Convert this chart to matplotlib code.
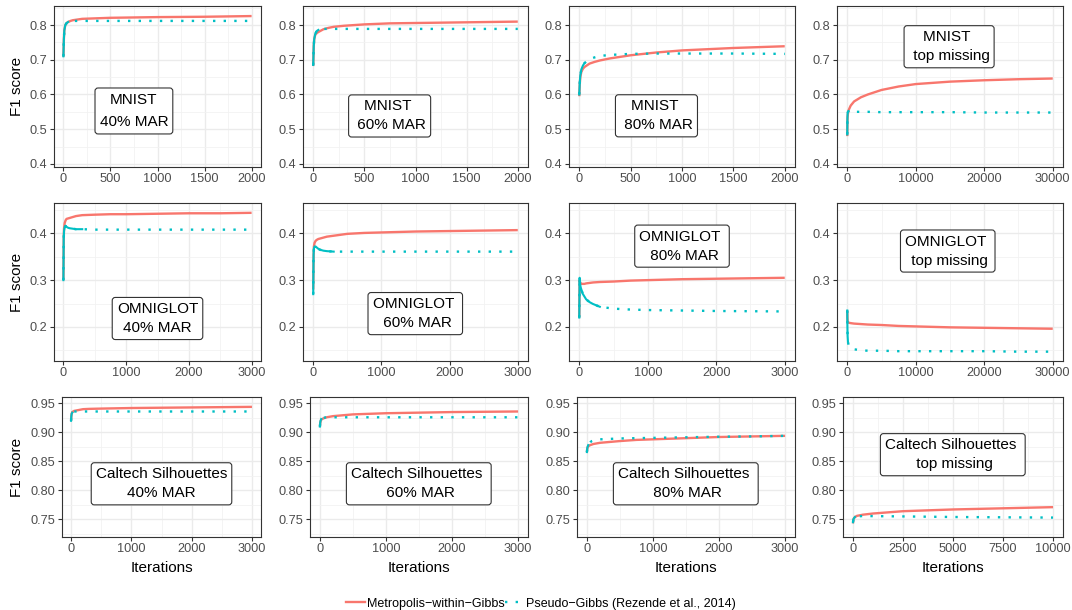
import matplotlib
matplotlib.use("Agg")
import matplotlib.pyplot as plt
from matplotlib.lines import Line2D
import numpy as np

plt.rcParams['font.family'] = ['Liberation Sans', 'DejaVu Sans']

RED = '#F8766D'
TEAL = '#00BFC4'

# iteration grids (one per panel width)
iters_2k = [0, 5, 10, 20, 35, 50, 75, 100, 150, 200, 300, 500, 750, 1000, 1500, 2000]
iters_3k = [0, 5, 10, 20, 35, 50, 75, 100, 150, 200, 300, 500, 750, 1000, 1500, 2000, 2500, 3000]
iters_30k = [0, 20, 50, 100, 200, 500, 1000, 2000, 3000, 5000, 7500, 10000, 15000, 20000, 25000, 30000]
iters_10k = [0, 20, 50, 100, 200, 500, 1000, 2500, 5000, 7500, 10000]

# MNIST
mnist40_mwg = [0.709, 0.76, 0.785, 0.800, 0.806, 0.809, 0.812, 0.814, 0.816, 0.818, 0.819, 0.821, 0.822, 0.823, 0.824, 0.826]
mnist40_pg = [0.710, 0.76, 0.785, 0.800, 0.806, 0.809, 0.811, 0.812, 0.812, 0.812, 0.812, 0.812, 0.812, 0.812, 0.812, 0.812]
mnist60_mwg = [0.682, 0.74, 0.76, 0.772, 0.777, 0.780, 0.784, 0.788, 0.792, 0.795, 0.798, 0.802, 0.805, 0.806, 0.808, 0.810]
mnist60_pg = [0.685, 0.74, 0.76, 0.775, 0.783, 0.786, 0.788, 0.789, 0.789, 0.789, 0.789, 0.789, 0.789, 0.789, 0.789, 0.789]
mnist80_mwg = [0.595, 0.63, 0.65, 0.665, 0.674, 0.679, 0.684, 0.689, 0.694, 0.698, 0.704, 0.713, 0.721, 0.727, 0.734, 0.739]
mnist80_pg = [0.600, 0.635, 0.655, 0.672, 0.683, 0.690, 0.697, 0.702, 0.707, 0.711, 0.714, 0.717, 0.718, 0.718, 0.718, 0.717]
mnisttop_mwg = [0.48, 0.52, 0.535, 0.545, 0.555, 0.568, 0.580, 0.592, 0.600, 0.613, 0.623, 0.630, 0.637, 0.641, 0.644, 0.646]
mnisttop_pg = [0.485, 0.53, 0.545, 0.550, 0.552, 0.551, 0.550, 0.550, 0.550, 0.549, 0.549, 0.549, 0.549, 0.548, 0.548, 0.548]

# OMNIGLOT
omni40_mwg = [0.300, 0.39, 0.41, 0.422, 0.428, 0.431, 0.432, 0.433, 0.435, 0.437, 0.439, 0.440, 0.441, 0.441, 0.442, 0.443, 0.443, 0.444]
omni40_pg = [0.300, 0.39, 0.405, 0.413, 0.416, 0.414, 0.412, 0.411, 0.410, 0.409, 0.409, 0.408, 0.408, 0.408, 0.408, 0.408, 0.408, 0.408]
omni60_mwg = [0.28, 0.35, 0.372, 0.380, 0.384, 0.386, 0.388, 0.389, 0.391, 0.393, 0.395, 0.399, 0.401, 0.402, 0.404, 0.405, 0.406, 0.407]
omni60_pg = [0.27, 0.355, 0.368, 0.372, 0.372, 0.370, 0.367, 0.365, 0.363, 0.362, 0.361, 0.361, 0.361, 0.361, 0.361, 0.361, 0.361, 0.361]
omni80_mwg = [0.22, 0.300, 0.296, 0.293, 0.292, 0.292, 0.292, 0.293, 0.294, 0.295, 0.296, 0.297, 0.299, 0.300, 0.302, 0.303, 0.304, 0.305]
omni80_pg = [0.22, 0.305, 0.295, 0.285, 0.278, 0.271, 0.265, 0.259, 0.253, 0.249, 0.243, 0.239, 0.237, 0.236, 0.235, 0.234, 0.2335, 0.233]
omnitop_mwg = [0.235, 0.220, 0.213, 0.210, 0.209, 0.208, 0.207, 0.206, 0.205, 0.204, 0.202, 0.201, 0.199, 0.198, 0.197, 0.196]
omnitop_pg = [0.235, 0.200, 0.180, 0.168, 0.160, 0.155, 0.152, 0.150, 0.149, 0.149, 0.148, 0.148, 0.148, 0.148, 0.147, 0.147]

# Caltech Silhouettes
cal40_mwg = [0.920, 0.928, 0.932, 0.935, 0.936, 0.937, 0.9375, 0.938, 0.939, 0.940, 0.9405, 0.941, 0.9415, 0.942, 0.9425, 0.943, 0.9435, 0.944]
cal40_pg = [0.920, 0.928, 0.932, 0.934, 0.935, 0.936, 0.936, 0.936, 0.936, 0.936, 0.936, 0.936, 0.936, 0.936, 0.936, 0.936, 0.936, 0.936]
cal60_mwg = [0.910, 0.916, 0.919, 0.922, 0.923, 0.924, 0.925, 0.926, 0.927, 0.928, 0.929, 0.931, 0.932, 0.933, 0.934, 0.935, 0.9355, 0.936]
cal60_pg = [0.910, 0.917, 0.920, 0.923, 0.924, 0.925, 0.9255, 0.926, 0.926, 0.926, 0.926, 0.926, 0.926, 0.926, 0.926, 0.926, 0.926, 0.926]
cal80_mwg = [0.866, 0.871, 0.874, 0.876, 0.877, 0.878, 0.879, 0.880, 0.881, 0.882, 0.883, 0.885, 0.887, 0.888, 0.890, 0.892, 0.893, 0.894]
cal80_pg = [0.866, 0.872, 0.875, 0.878, 0.881, 0.883, 0.885, 0.886, 0.887, 0.888, 0.8885, 0.8895, 0.890, 0.8905, 0.8915, 0.8925, 0.893, 0.894]
caltop_mwg = [0.743, 0.750, 0.752, 0.754, 0.756, 0.758, 0.760, 0.764, 0.767, 0.769, 0.771]
caltop_pg = [0.745, 0.750, 0.752, 0.754, 0.755, 0.7557, 0.7555, 0.755, 0.754, 0.7535, 0.753]

labels = [
    "MNIST\n40% MAR", "MNIST \n 60% MAR", "MNIST \n 80% MAR", "MNIST \n top missing",
    "OMNIGLOT\n40% MAR", "OMNIGLOT \n 60% MAR", "OMNIGLOT \n 80% MAR", "OMNIGLOT \n top missing",
    "Caltech Silhouettes\n40% MAR", "Caltech Silhouettes \n 60% MAR",
    "Caltech Silhouettes \n 80% MAR", "Caltech Silhouettes \n top missing",
]

panels = [
    (iters_2k, mnist40_mwg, mnist40_pg), (iters_2k, mnist60_mwg, mnist60_pg),
    (iters_2k, mnist80_mwg, mnist80_pg), (iters_30k, mnisttop_mwg, mnisttop_pg),
    (iters_3k, omni40_mwg, omni40_pg), (iters_3k, omni60_mwg, omni60_pg),
    (iters_3k, omni80_mwg, omni80_pg), (iters_30k, omnitop_mwg, omnitop_pg),
    (iters_3k, cal40_mwg, cal40_pg), (iters_3k, cal60_mwg, cal60_pg),
    (iters_3k, cal80_mwg, cal80_pg), (iters_10k, caltop_mwg, caltop_pg),
]

# ---- layout (pixels) ----
W, H = 1072, 610
rows_tb = [(6, 167), (203, 361), (397, 537)]
lefts = [[54, 303, 569, 837], [54, 303, 569, 837], [62, 310, 577, 843]]
rights = [261, 528, 795, 1063]
ylims = [(0.391, 0.855), (0.127, 0.465), (0.7195, 0.961)]
ymaj = [[0.4, 0.5, 0.6, 0.7, 0.8], [0.2, 0.3, 0.4], [0.75, 0.80, 0.85, 0.90, 0.95]]
ymin = [np.arange(0.45, 0.86, 0.1), np.arange(0.15, 0.46, 0.1), np.arange(0.725, 0.96, 0.05)]
yfmt = ['{:.1f}', '{:.1f}', '{:.2f}']
label_pos = [(0.386, 0.348), (0.385, 0.317), (0.387, 0.318), (0.496, 0.747),
             (0.5, 0.269), (0.499, 0.30), (0.5, 0.727), (0.49, 0.696),
             (0.5, 0.38), (0.499, 0.38), (0.499, 0.38), (0.499, 0.588)]
pg_solid_until = [50, 50, 50, 300, 300, 300, 300, 100, 20, 20, 20, 100]

fig = plt.figure(figsize=(W / 100, H / 100), dpi=100)

for i, (xs, mwg, pg) in enumerate(panels):
    r, c = divmod(i, 4)
    top, bot = rows_tb[r]
    left = lefts[r][c]
    ax = fig.add_axes([left / W, 1 - bot / H, (rights[c] - left) / W, (bot - top) / H])
    xmax = xs[-1]
    ax.set_xlim(-0.05 * xmax, 1.05 * xmax)
    ax.set_ylim(*ylims[r])

    if xmax == 2000:
        xt = [0, 500, 1000, 1500, 2000]
    elif xmax == 3000:
        xt = [0, 1000, 2000, 3000]
    elif xmax == 30000:
        xt = [0, 10000, 20000, 30000]
    else:
        xt = [0, 2500, 5000, 7500, 10000]
    ax.set_xticks(xt)
    ax.set_xticklabels([str(v) for v in xt])
    ax.set_xticks([(a + b) / 2 for a, b in zip(xt[:-1], xt[1:])], minor=True)
    ax.set_yticks(ymaj[r])
    ax.set_yticklabels([yfmt[r].format(v) for v in ymaj[r]])
    ax.set_yticks(ymin[r], minor=True)

    ax.grid(which='major', color='#EBEBEB', lw=1.0)
    ax.grid(which='minor', color='#F2F2F2', lw=0.6)
    ax.set_axisbelow(True)
    for s in ax.spines.values():
        s.set_color('#333333')
        s.set_linewidth(0.8)
    ax.tick_params(which='major', length=3, width=0.8, color='#333333',
                   labelcolor='#4D4D4D', labelsize=9.2, pad=1.6)
    ax.tick_params(which='minor', length=0)

    ax.plot(xs, mwg, color=RED, lw=1.7, solid_capstyle='butt')
    ax.plot(xs, pg, color=TEAL, lw=1.7, linestyle=(0, (1, 3.5)))
    cut = pg_solid_until[i]
    xe = [x for x in xs if x <= cut]
    ax.plot(xe, pg[:len(xe)], color=TEAL, lw=1.5)

    lx, ly = label_pos[i]
    ax.text(lx, ly, labels[i], transform=ax.transAxes, ha='center', va='center',
            multialignment='center', fontsize=11, color='black',
            linespacing=1.8 if i == 0 else 1.45,
            bbox=dict(boxstyle='round,pad=0.3,rounding_size=0.2', fc='white',
                      ec='#333333', lw=0.8))

    if c == 0:
        fig.text(17 / W, 1 - (top + bot) / 2 / H, 'F1 score', rotation=90,
                 ha='center', va='center', fontsize=11)
    if r == 2:
        fig.text((left + rights[c]) / 2 / W, 1 - 567.5 / H, 'Iterations',
                 ha='center', va='center', fontsize=11)

handles = [Line2D([], [], color=RED, lw=1.7),
           Line2D([], [], color=TEAL, lw=1.7, linestyle=(0, (1, 3.5)))]
fig.legend(handles, ['Metropolis\u2212within\u2212Gibbs', 'Pseudo\u2212Gibbs (Rezende et al., 2014)'],
           loc='center', bbox_to_anchor=(541 / W, 1 - 603.5 / H), ncol=2, frameon=False,
           fontsize=9, handlelength=1.5, handletextpad=0.2, columnspacing=0.0,
           borderpad=0, borderaxespad=0)

fig.savefig('out.png', dpi=100)
